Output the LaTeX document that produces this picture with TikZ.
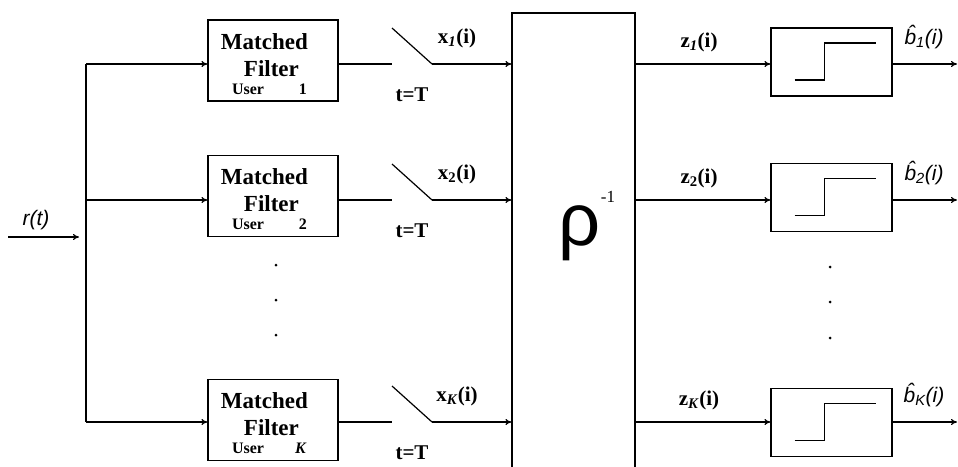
\documentclass[tikz,border=0pt]{standalone}
\usepackage{fontspec}
\setmainfont{Liberation Serif}
\newfontfamily\lsans{Liberation Sans}
\usetikzlibrary{arrows.meta,calc}
\begin{document}
\begin{tikzpicture}[x=1pt,y=-1pt,
  line width=1.2pt,
  arr/.style={-{To[length=6pt,width=6pt]}},
  mfbox/.style={draw,minimum width=130pt,minimum height=81pt,inner sep=0pt},
  thbox/.style={draw,minimum width=121pt,minimum height=68pt,inner sep=0pt},
  bigtxt/.style={font=\bfseries\fontsize{23}{23}\selectfont,inner sep=0pt},
  smalltxt/.style={font=\bfseries\fontsize{16}{16}\selectfont,inner sep=0pt},
  lab/.style={font=\bfseries\fontsize{21}{21}\selectfont,inner sep=0pt},
  itlab/.style={font=\lsans\itshape\fontsize{21}{21}\selectfont,inner sep=0pt},
  dot/.style={fill=black}
]
\useasboundingbox (0,0) rectangle (958,466);

% rho^{-1} block
\node[draw,minimum width=123pt,minimum height=456pt,inner sep=0pt] (rho) at (573.5,241) {};
\node[font=\lsans\fontsize{74}{74}\selectfont,inner sep=0pt] (rhosym) at (580,233.5) {ρ};
\node[font=\fontsize{17}{17}\selectfont,inner sep=0pt] (rhoexp) at (608,197) {-1};

% input
\coordinate (in) at (8,237);
\coordinate (inend) at (79,237);
\draw[arr] (in) -- (inend);
\node[itlab] (rt) at (36,220) {r(t)};

\foreach \n/\y/\my/\ty/\num/\sub in {1/64/60.5/62/1/\textit{1}, 2/200/196/197.5/2/2, 3/422/420/422.5/\textit{K}/\textit{K}} {
  \coordinate (bus\n) at (86,\y);
  \node[mfbox] (mf\n) at (273,\my) {};
  \draw[arr] (bus\n) -- (mf\n.west |- bus\n);
  \node[bigtxt,anchor=base] (ma\n) at ($(mf\n.north west)+(57,30)$) {Matched};
  \node[bigtxt,anchor=base] (fi\n) at ($(mf\n.north west)+(64,57)$) {Filter};
  \node[smalltxt,anchor=base west] (us\n) at ($(mf\n.north west)+(24,75)$) {User};
  \node[smalltxt,anchor=base east] (nu\n) at ($(mf\n.north west)+(100,75)$) {\num};
  % switch
  \coordinate (swa\n) at (392,\y);
  \coordinate (swb\n) at (392,\y-36);
  \coordinate (swc\n) at (432,\y);
  \draw (mf\n.east |- bus\n) -- (swa\n);
  \draw (swb\n) -- (swc\n);
  \draw[arr] (swc\n) -- (rho.west |- swc\n);
  \node[lab] (x\n) at (457,\y-26) {x\textsubscript{\sub}(i)};
  \node[lab] (t\n) at (412,\y+31) {t=T};
  % decision
  \node[thbox] (th\n) at (831.5,\ty) {};
  \draw[arr] (rho.east |- bus\n) -- (th\n.west |- bus\n);
  \draw ([shift={(-37,18)}]th\n.center) -- ++(30,0) -- ++(0,-37) -- ++(51,0);
  \node[lab] (z\n) at (699,\y-22) {z\textsubscript{\sub}(i)};
  \coordinate (out\n) at (957,\y);
  \draw[arr] (th\n.east |- bus\n) -- (out\n);
  \node[itlab] (b\n) at (924,\y-27) {\^{b}\textsubscript{\sub}(i)};
}
\draw (bus1) -- (bus3);

% dots
\foreach \yy in {265,300,335} \fill[dot] (276,\yy) circle (1.5);
\foreach \yy in {267,302,338} \fill[dot] (830,\yy) circle (1.5);
\end{tikzpicture}
\end{document}
